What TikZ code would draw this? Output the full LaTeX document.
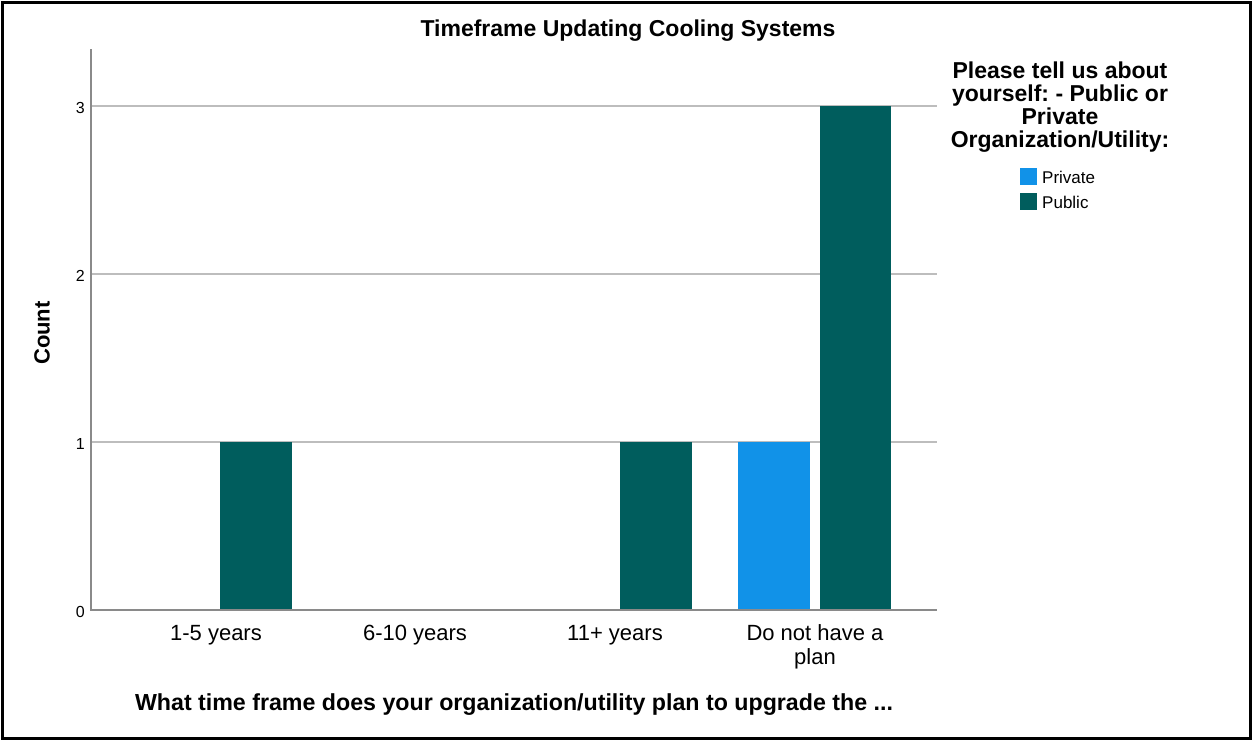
\documentclass[tikz,border=0pt]{standalone}
\usepackage{fontspec}
\setmainfont{Liberation Sans}
\frenchspacing
\definecolor{privblue}{HTML}{1192E8}
\definecolor{pubteal}{HTML}{005D5D}
\definecolor{gridgray}{HTML}{BDBDBD}
\definecolor{axisgray}{HTML}{8A8A8A}
\begin{document}
\begin{tikzpicture}[x=1pt,y=-1pt,
  gridline/.style={draw=gridgray,line width=1.2pt},
  axisline/.style={draw=axisgray,line width=1.5pt},
  ticklabel/.style={font=\fontsize{16}{18}\selectfont,anchor=east,inner sep=0pt},
  catlabel/.style={font=\fontsize{22}{24}\selectfont,align=center,inner sep=0pt},
  boldtitle/.style={font=\bfseries\fontsize{23}{23}\selectfont,align=center,inner sep=0pt},
  swatch/.style={minimum width=17pt,minimum height=17pt,inner sep=0pt},
  legitem/.style={font=\fontsize{17}{19}\selectfont,anchor=west,inner sep=0pt}]
\useasboundingbox (0,0) rectangle (1252,740);
\fill[white] (0,0) rectangle (1252,740);
\draw[line width=3pt] (2,2) rectangle (1250,738);

% horizontal grid lines at counts 1, 2, 3
\foreach \v in {1,2,3}
  \draw[gridline] (91,{610-168*\v}) -- (937,{610-168*\v});

% bars (168 px per count)
\fill[pubteal]  (220,610) rectangle (292,442);
\fill[pubteal]  (620,610) rectangle (692,442);
\fill[privblue] (738,610) rectangle (810,442);
\fill[pubteal]  (820,610) rectangle (891,106);

% axes
\draw[axisline] (91,49) -- (91,610) -- (937,610);

% tick labels
\foreach \v in {0,1,2,3}
  \node[ticklabel] (tick\v) at (85,{612-168*\v}) {\v};

% category labels
\node[catlabel] (c1) at (216,635) {1-5 years};
\node[catlabel] (c2) at (415,635) {6-10 years};
\node[catlabel] (c3) at (615,635) {11+ years};
\node[catlabel] (c4) at (815,647) {Do not have a\\plan};

% titles
\node[boldtitle] (title) at (628,31) {Timeframe Updating Cooling Systems};
\node[boldtitle,font=\bfseries\fontsize{23.2}{25}\selectfont] (xtitle) at (514,705)
  {What time frame does your organization/utility plan to upgrade the ...};
\node[boldtitle,font=\bfseries\fontsize{22}{24}\selectfont,rotate=90] (ytitle) at (42,333) {Count};

% legend
\node[boldtitle] (legtitle) at (1060,107)
  {Please tell us about\\yourself: - Public or\\Private\\Organization/Utility:};
\node[swatch,fill=privblue] (swpriv) at (1028.5,176) {};
\node[swatch,fill=pubteal]  (swpub)  at (1028.5,201) {};
\node[legitem] (lpriv) at (1042,177) {Private};
\node[legitem] (lpub)  at (1042,202) {Public};
\end{tikzpicture}
\end{document}
